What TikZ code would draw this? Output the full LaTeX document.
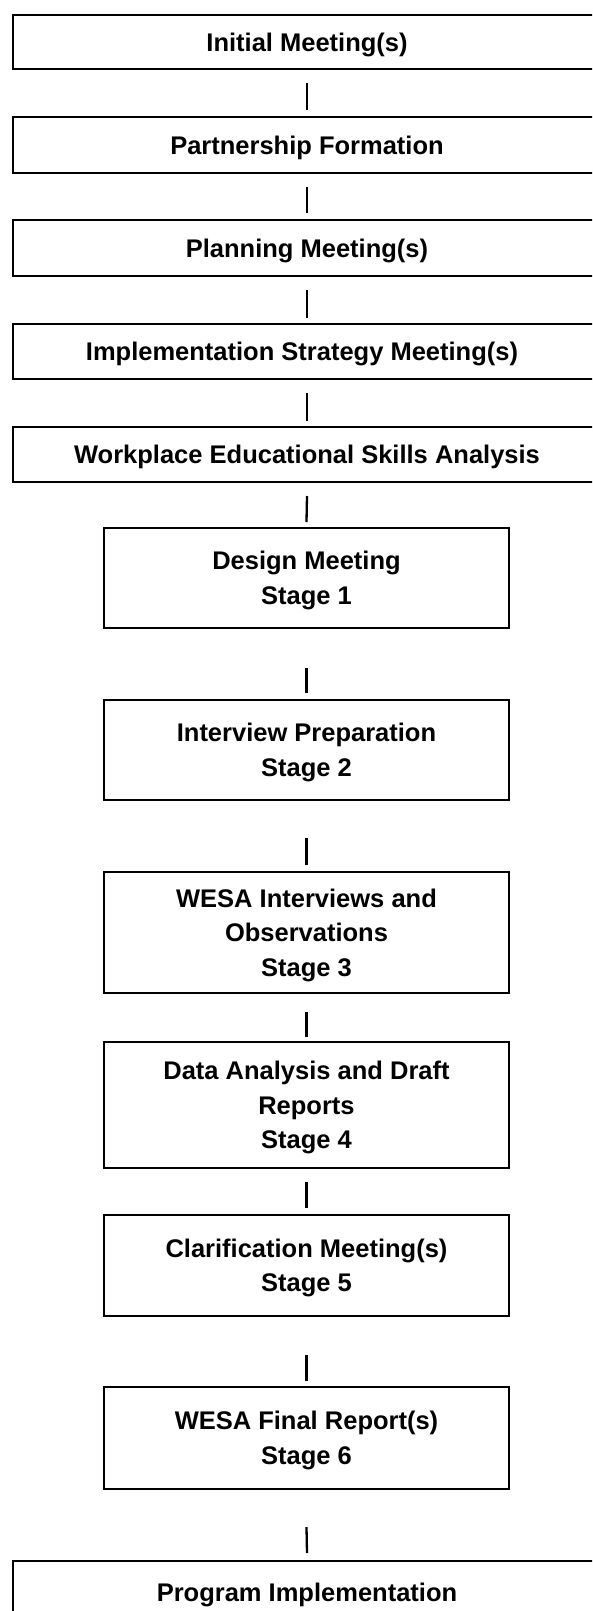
\documentclass[tikz,border=0pt]{standalone}
\usepackage{fontspec}
\setmainfont{Liberation Sans}
\begin{document}
\begin{tikzpicture}[x=1pt,y=-1pt,
  box/.style={draw, line width=2.4pt, inner sep=0pt, outer sep=0pt},
  widebox/.style={box, minimum width=588pt},
  narrowbox/.style={box, minimum width=405pt},
  lbl/.style={font=\bfseries\fontsize{25.5}{34.5}\selectfont, align=center, inner sep=0pt},
  link/.style={line width=2.3pt}]
\useasboundingbox (0,0) rectangle (592,1611);
\clip (0,0) rectangle (592,1611);

% wide boxes (their right sides run past the page edge)
\node[widebox, minimum height=54pt] (b1) at (307,42) {};
\node[widebox, minimum height=56pt] (b2) at (307,145) {};
\node[widebox, minimum height=56pt] (b3) at (307,248) {};
\node[widebox, minimum height=55pt] (b4) at (307,351.5) {};
\node[widebox, minimum height=55pt] (b5) at (307,454.5) {};

% stage boxes
\node[narrowbox, minimum height=100pt] (b6) at (306.5,578) {};
\node[narrowbox, minimum height=100pt] (b7) at (306.5,750) {};
\node[narrowbox, minimum height=121pt] (b8) at (306.5,932.5) {};
\node[narrowbox, minimum height=126pt] (b9) at (306.5,1105) {};
\node[narrowbox, minimum height=101pt] (b10) at (306.5,1265.5) {};
\node[narrowbox, minimum height=102pt] (b11) at (306.5,1438) {};

% last box, cut by the bottom edge
\node[widebox, minimum height=79pt] (b12) at (307,1600.5) {};

% labels
\node[lbl] (t1) at ([yshift=-2.5pt]b1.center) {Initial Meeting(s)};
\node[lbl] (t2) at ([yshift=-2.5pt]b2.center) {Partnership Formation};
\node[lbl] (t3) at ([yshift=-2.5pt]b3.center) {Planning Meeting(s)};
\node[lbl] (t4) at ([xshift=-5pt,yshift=-2.5pt]b4.center) {Implementation Strategy Meeting(s)};
\node[lbl] (t5) at ([yshift=-2.5pt]b5.center) {Workplace Educational Skills Analysis};
\node[lbl] (t6) at ([yshift=-2.5pt]b6.center) {Design Meeting\\Stage 1};
\node[lbl] (t7) at ([yshift=-2.5pt]b7.center) {Interview Preparation\\Stage 2};
\node[lbl] (t8) at ([yshift=-2.5pt]b8.center) {WESA Interviews and\\Observations\\Stage 3};
\node[lbl] (t9) at ([yshift=-2.5pt]b9.center) {Data Analysis and Draft\\Reports\\Stage 4};
\node[lbl] (t10) at ([yshift=-2.5pt]b10.center) {Clarification Meeting(s)\\Stage 5};
\node[lbl] (t11) at ([yshift=-2.5pt]b11.center) {WESA Final Report(s)\\Stage 6};
\node[lbl] (t12) at ([yshift=-33.5pt]b12.north) {Program Implementation};

% connectors
\draw[link] ([yshift=-14pt]b1.south) -- ([yshift=7pt]b2.north);
\draw[link] ([yshift=-14pt]b2.south) -- ([yshift=7pt]b3.north);
\draw[link] ([yshift=-14pt]b3.south) -- ([yshift=6pt]b4.north);
\draw[link] ([yshift=-14pt]b4.south) -- ([yshift=6pt]b5.north);
\draw[link] ([yshift=-14pt]b5.south) -- ([yshift=6pt]b6.north);
\draw[link] ([yshift=-40pt]b6.south) -- ([yshift=7pt]b7.north);
\draw[link] ([yshift=-38pt]b7.south) -- ([yshift=7pt]b8.north);
\draw[link] ([yshift=-19pt]b8.south) -- ([yshift=5pt]b9.north);
\draw[link] ([yshift=-14pt]b9.south) -- ([yshift=7pt]b10.north);
\draw[link] ([yshift=-39pt]b10.south) -- ([yshift=6pt]b11.north);
\draw[link] ([yshift=-38pt]b11.south) -- ([yshift=8pt]b12.north);
\end{tikzpicture}
\end{document}
